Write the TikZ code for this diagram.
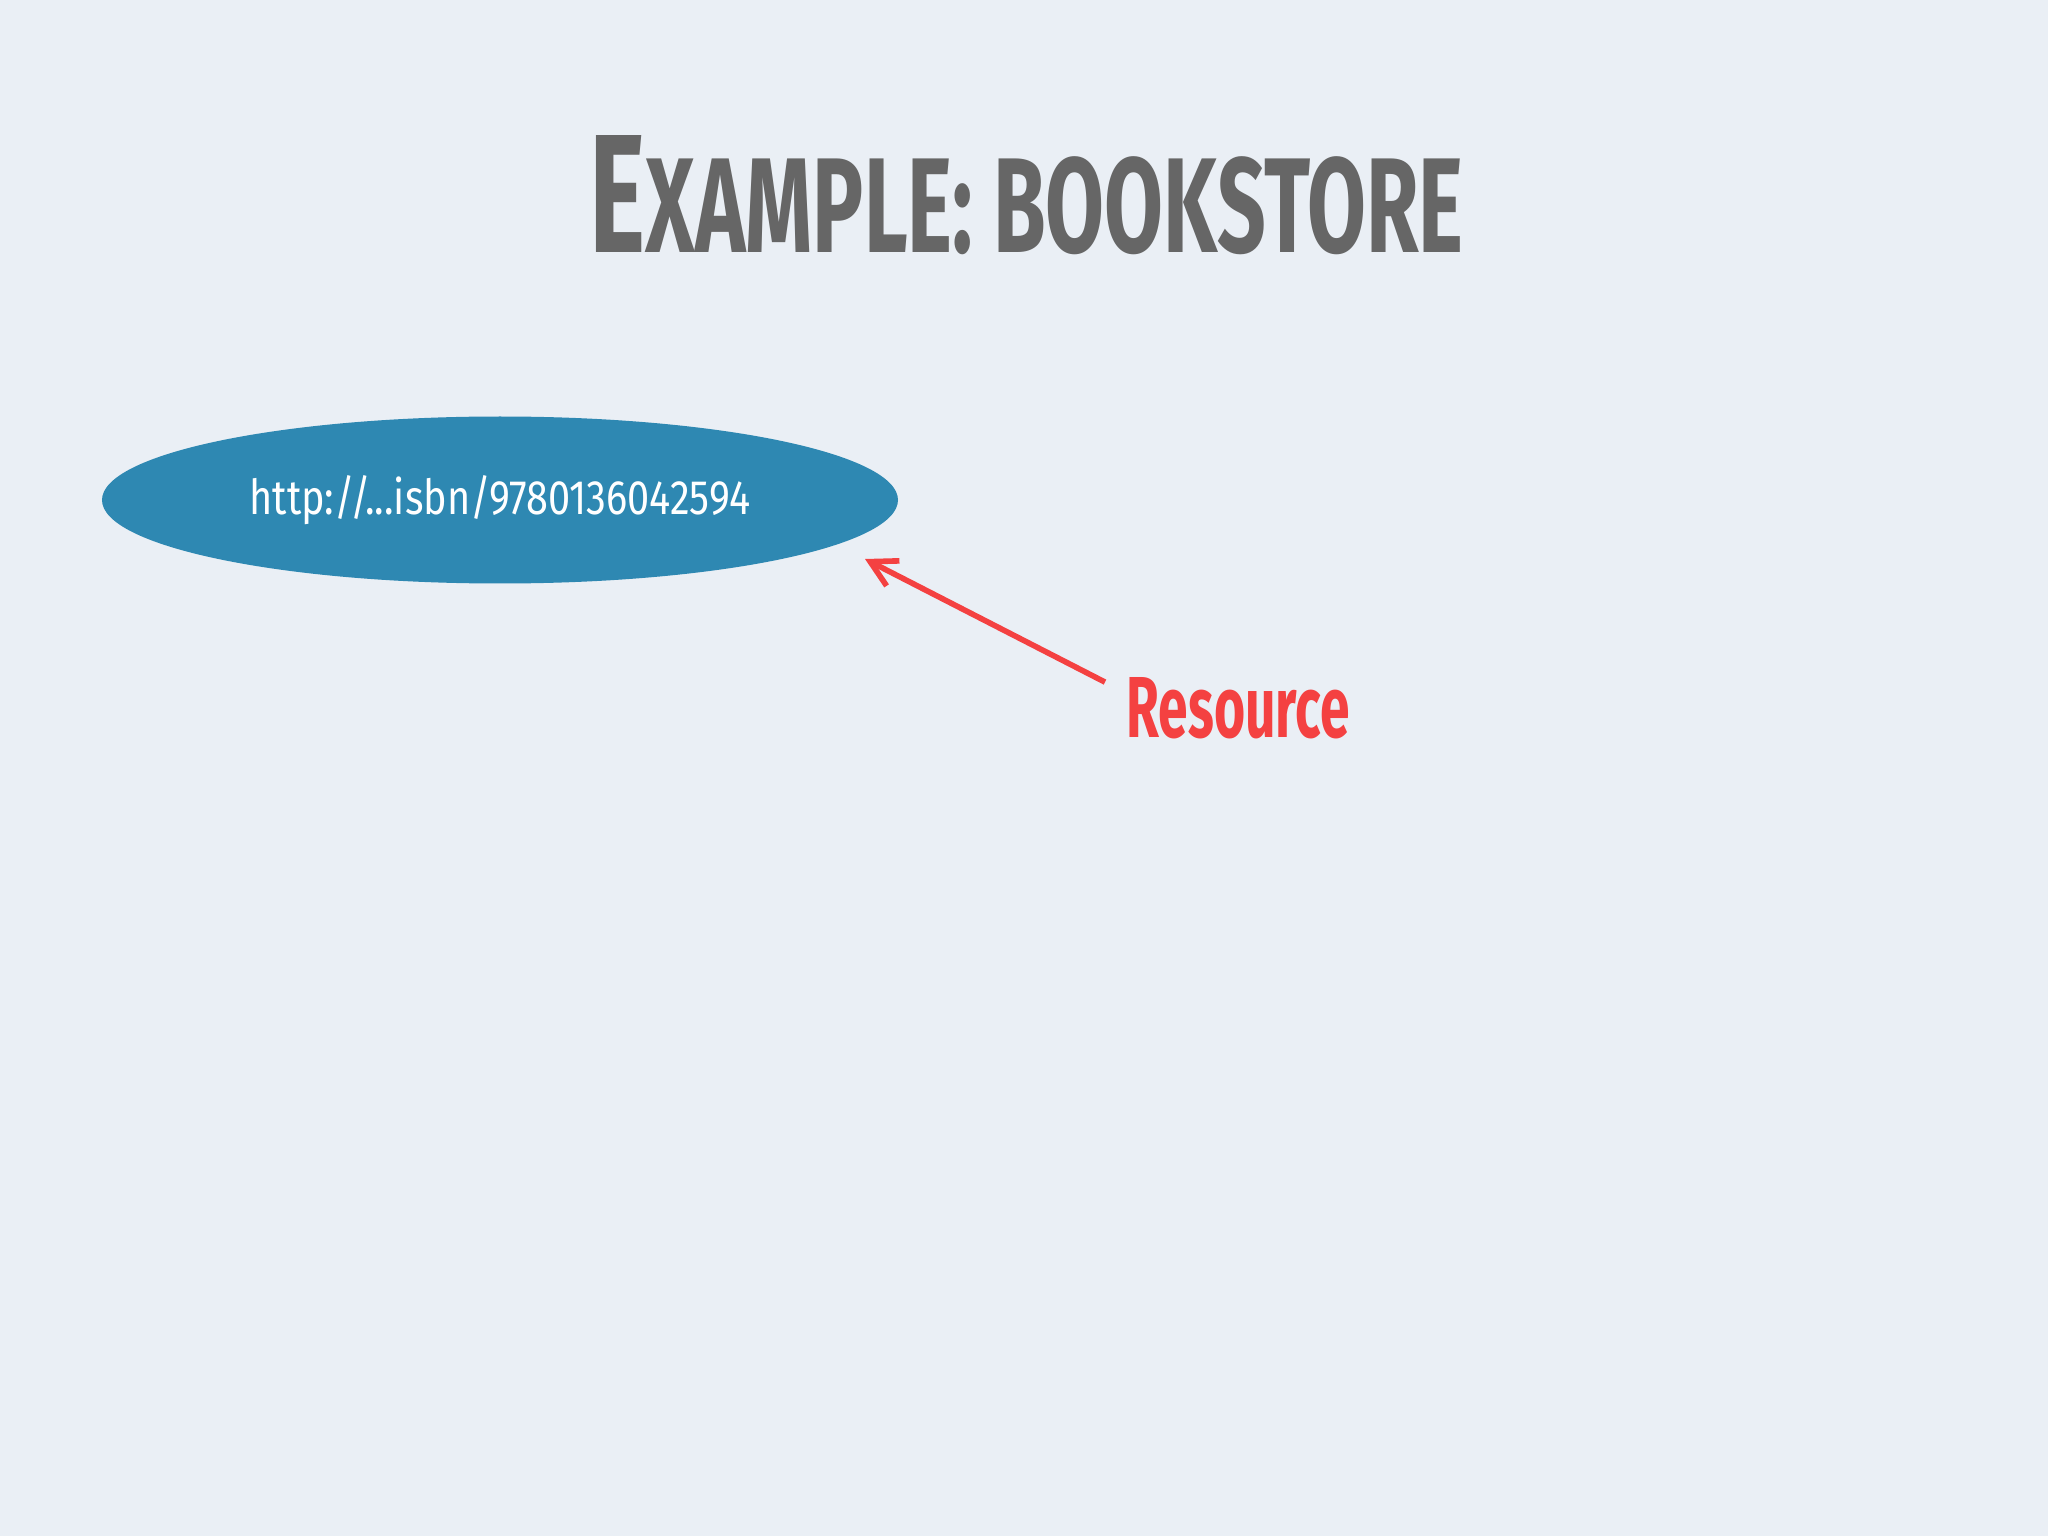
\documentclass[tikz,border=0pt]{standalone}
\usepackage{fontspec}
\usepackage{graphicx}
\usetikzlibrary{shapes.geometric,arrows.meta}
\newfontfamily\titlefont{Fira Sans}
\definecolor{bgc}{HTML}{EAEFF5}
\definecolor{titlegray}{HTML}{666666}
\definecolor{ellblue}{HTML}{2E88B2}
\definecolor{resred}{HTML}{F44141}
\tikzset{
  titlestyle/.style={inner sep=0pt,anchor=south west,text=titlegray,font=\titlefont\bfseries},
  resstyle/.style={ellipse,fill=ellblue,inner sep=0pt,minimum width=7.96cm,minimum height=1.67cm,text=white,font=\titlefont},
  lblstyle/.style={inner sep=0pt,anchor=south west,text=resred,font=\titlefont\bfseries},
  arr/.style={draw=resred,line width=1.6pt,-{Straight Barb[length=7.3pt,width=8pt,line width=1.6pt]}}
}
\begin{document}
\begin{tikzpicture}
\fill[bgc] (0,0) rectangle (20.48,-15.36);
\useasboundingbox (0,0) rectangle (20.48,-15.36);
\node[titlestyle] (title) at (5.89,-2.56) {\resizebox{8.74cm}{1.17cm}{\fontsize{50}{50}\selectfont E\fontsize{40}{40}\selectfont XAMPLE: BOOKSTORE}};
\node[resstyle] (res) at (5.00,-5.00) {\raisebox{-0.06cm}{\resizebox{5.01cm}{0.39cm}{http://...isbn/9780136042594}}};
\node[lblstyle] (lbl) at (11.26,-7.40) {\resizebox{2.23cm}{0.60cm}{Resource}};
\coordinate (tip) at (8.65,-5.59);
\draw[arr] ([xshift=-0.21cm,yshift=-0.05cm]lbl.north west) -- (tip);
\end{tikzpicture}
\end{document}
